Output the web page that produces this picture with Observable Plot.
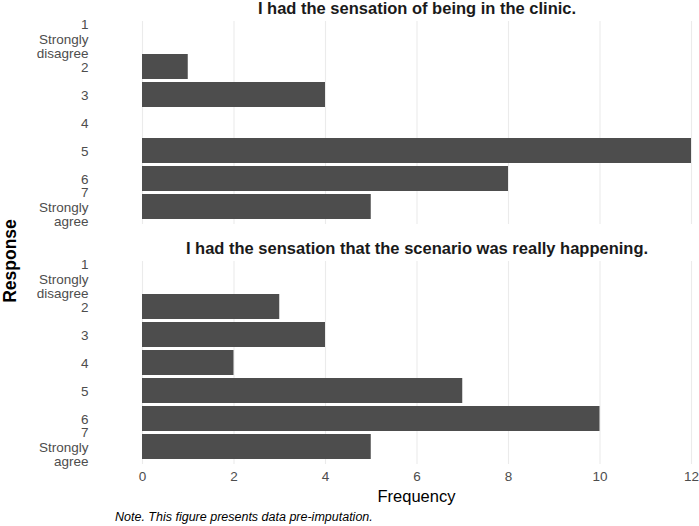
<!DOCTYPE html>
<html><head><meta charset="utf-8">
<script src="https://cdn.jsdelivr.net/npm/d3@7"></script>
<script src="https://cdn.jsdelivr.net/npm/@observablehq/plot@0.6"></script>
<style>
body{margin:0;background:#fff;font-family:"Liberation Sans",Arial,sans-serif}
#cap{font-style:italic;font-size:12.5px;padding-left:115px;margin-top:5px;line-height:14px;color:#000}
</style></head>
<body><div id="chart"></div><div id="cap">Note. This figure presents data pre-imputation.</div>
<script>
const questions = ["I had the sensation of being in the clinic.", "I had the sensation that the scenario was really happening."];
const responses = ["1", "2", "3", "4", "5", "6", "7"];
const responseLabels = ["1\nStrongly\ndisagree", "2", "3", "4", "5", "6", "7\nStrongly\nagree"];
const clinicCounts = [0, 1, 4, 0, 12, 8, 5];
const happeningCounts = [0, 3, 4, 2, 7, 10, 5];
const xTicks = [0, 2, 4, 6, 8, 10, 12];
const xLabel = "Frequency";
const yLabel = "Response";

const data = [];
responses.forEach((r, i) => data.push({q: questions[0], r, n: clinicCounts[i]}));
responses.forEach((r, i) => data.push({q: questions[1], r, n: happeningCounts[i]}));

const W = 699, H = 505, ML = 142, MR = 8, MT = 20, MB = 40;
const chart = Plot.plot({
  width: W, height: H, marginLeft: ML, marginRight: MR, marginTop: MT, marginBottom: MB,
  style: {fontFamily: "'Liberation Sans', Arial, sans-serif", fontSize: "12px", background: "white", overflow: "visible"},
  x: {domain: [0, 12], label: null, axis: null},
  y: {domain: responses, paddingInner: 0.1, paddingOuter: 0.155, label: null, axis: null},
  fy: {domain: questions, paddingInner: 0.1535, paddingOuter: 0, label: null, axis: null},
  marks: [
    Plot.gridX(xTicks, {stroke: "#ebebeb", strokeOpacity: 1, strokeWidth: 1.1}),
    Plot.barX(data, {x: "n", y: "r", fy: "q", fill: "#4d4d4d"}),
    Plot.axisX({ticks: xTicks, tickSize: 0, tickPadding: 7, fontSize: 13.5, fill: "#4d4d4d", label: null, facetAnchor: "bottom"}),
    Plot.axisY({tickSize: 0, tickPadding: 54, fontSize: 13.5, lineHeight: 1.04, fill: "#4d4d4d", label: null,
      tickFormat: d => responseLabels[responses.indexOf(d)]}),
    Plot.text(questions, {fy: d => d, text: d => d, frameAnchor: "top", lineAnchor: "middle", dy: -13, fontWeight: "bold", fontSize: 16.5, fill: "#1a1a1a"})
  ]
});
document.getElementById("chart").appendChild(chart);
const svg = d3.select(chart);
svg.append("text").attr("x", ML + (W - ML - MR) / 2).attr("y", 502).attr("text-anchor", "middle")
  .attr("font-size", 16.5).attr("fill", "#000").text(xLabel);
svg.append("text").attr("transform", "translate(16,261) rotate(-90)").attr("text-anchor", "middle")
  .attr("font-size", 17.5).attr("font-weight", "bold").attr("fill", "#000").text(yLabel);
</script>
</body></html>
